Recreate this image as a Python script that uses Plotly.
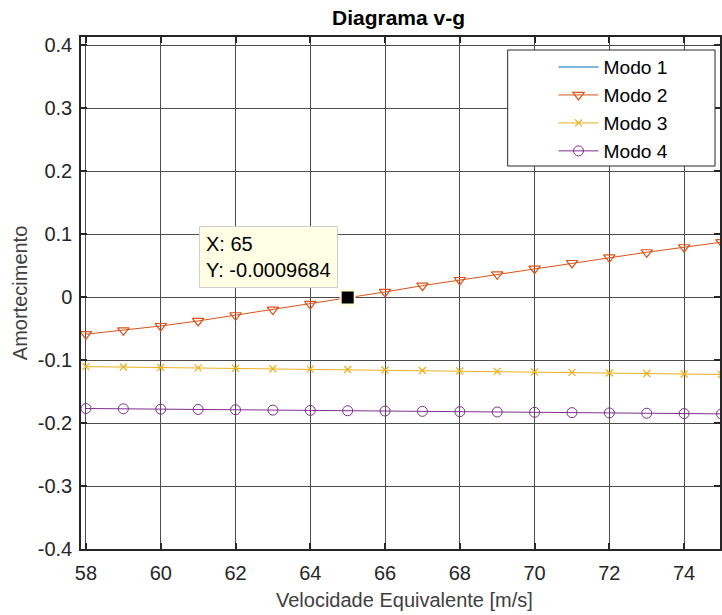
import plotly.graph_objects as go

# Velocity samples [m/s]
velocidade = [58, 59, 60, 61, 62, 63, 64, 65, 66, 67, 68, 69, 70, 71, 72, 73, 74, 75]

# Damping per mode (mode 1 has no values in this velocity window)
modo1 = [float("nan")] * len(velocidade)
modo2 = [-0.059, -0.053, -0.046, -0.038, -0.029, -0.020, -0.011, -0.0009684, 0.008,
         0.018, 0.027, 0.036, 0.045, 0.054, 0.063, 0.071, 0.079, 0.087]
modo3 = [-0.1105, -0.1112, -0.1118, -0.1125, -0.1131, -0.1138, -0.1145, -0.1152, -0.1159,
         -0.1166, -0.1174, -0.1181, -0.1189, -0.1197, -0.1205, -0.1213, -0.1221, -0.1230]
modo4 = [-0.1770, -0.1775, -0.1780, -0.1785, -0.1790, -0.1795, -0.1800, -0.1805, -0.1810,
         -0.1815, -0.1820, -0.1825, -0.1830, -0.1835, -0.1840, -0.1845, -0.1850, -0.1855]

x_ticks = [58, 60, 62, 64, 66, 68, 70, 72, 74]
y_ticks = [-0.4, -0.3, -0.2, -0.1, 0, 0.1, 0.2, 0.3, 0.4]
y_ticktext = ["-0.4", "-0.3", "-0.2", "-0.1", "0", "0.1", "0.2", "0.3", "0.4"]

tip_x, tip_y = 65, -0.0009684

FONT = "Liberation Sans, Arial, sans-serif"
AX = "#262626"
FS = 20

# plot area in pixels
L, R, T, B = 81, 722, 37, 549
W, H = R - L, B - T


def px(xp):
    return (xp - L) / W


def py(yp):
    return (B - yp) / H


fig = go.Figure()
fig.add_trace(go.Scatter(x=velocidade, y=modo1, name="Modo 1", mode="lines",
                         line=dict(color="#0072BD", width=1.2)))
fig.add_trace(go.Scatter(x=velocidade, y=modo2, name="Modo 2", mode="lines+markers",
                         line=dict(color="#D95319", width=1),
                         marker=dict(symbol="triangle-down-open", size=10, color="#D95319",
                                     line=dict(width=1.2))))
fig.add_trace(go.Scatter(x=velocidade, y=modo3, name="Modo 3", mode="lines+markers",
                         line=dict(color="#EDB120", width=1),
                         marker=dict(symbol="x-thin-open", size=7, color="#EDB120",
                                     line=dict(width=1.3, color="#EDB120"))))
fig.add_trace(go.Scatter(x=velocidade, y=modo4, name="Modo 4", mode="lines+markers",
                         line=dict(color="#7E2F8E", width=1),
                         marker=dict(symbol="circle-open", size=10, color="#7E2F8E",
                                     line=dict(width=1))))

# data tip marker
fig.add_trace(go.Scatter(x=[tip_x], y=[tip_y], mode="markers", showlegend=False,
                         marker=dict(symbol="square", size=14, color="black",
                                     line=dict(color="#FFFFD0", width=2))))

fig.add_annotation(x=tip_x, y=tip_y, xref="x", yref="y",
                   text="X: 65<br>Y: -0.0009684", showarrow=False, align="left",
                   xanchor="right", yanchor="bottom", xshift=-10, yshift=10,
                   bgcolor="#FFFFE6", bordercolor="#CFCFCF", borderwidth=1, borderpad=6,
                   font=dict(family=FONT, size=FS, color="black"))

fig.add_annotation(text="<b>Diagrama v-g</b>", xref="paper", yref="paper",
                   x=px(399), y=py(17), showarrow=False,
                   xanchor="center", yanchor="middle",
                   font=dict(family=FONT, size=21, color="black"))
fig.add_annotation(text="Velocidade Equivalente [m/s]", xref="paper", yref="paper",
                   x=px(406), y=py(600), showarrow=False,
                   xanchor="center", yanchor="middle",
                   font=dict(family=FONT, size=FS, color="#404040"))
fig.add_annotation(text="Amortecimento", xref="paper", yref="paper",
                   x=px(20), y=py(293), showarrow=False, textangle=-90,
                   xanchor="center", yanchor="middle",
                   font=dict(family=FONT, size=FS, color="#404040"))

# legend frame
fig.add_shape(type="rect", xref="paper", yref="paper",
              x0=px(509), x1=px(717), y0=py(166), y1=py(50),
              fillcolor="white", line=dict(color=AX, width=1), layer="above")

axis_common = dict(showline=True, linecolor=AX, linewidth=1.5, mirror="ticks",
                   ticks="inside", ticklen=6, tickcolor=AX, tickwidth=1.5,
                   showgrid=True, gridcolor="#4d4d4d", gridwidth=1, zeroline=False,
                   tickfont=dict(family=FONT, size=FS, color=AX))

fig.update_xaxes(range=[58 - 5 / 37.5, 58 + 636 / 37.5], tickvals=x_ticks,
                 ticklabelstandoff=5, **axis_common)
fig.update_yaxes(range=[-0.4, 0.4 + 8 / 630], tickvals=y_ticks, ticktext=y_ticktext,
                 ticklabelstandoff=3, **axis_common)

fig.update_layout(
    width=722, height=615,
    margin=dict(l=L, r=722 - R, t=T, b=615 - B),
    paper_bgcolor="white", plot_bgcolor="white",
    showlegend=True,
    legend=dict(x=px(555), y=py(48), xanchor="left", yanchor="top",
                bgcolor="rgba(0,0,0,0)", borderwidth=0,
                font=dict(family=FONT, size=19.2, color="black"),
                itemwidth=40, tracegroupgap=0),
    font=dict(family=FONT),
)

fig.write_html("out.html")
